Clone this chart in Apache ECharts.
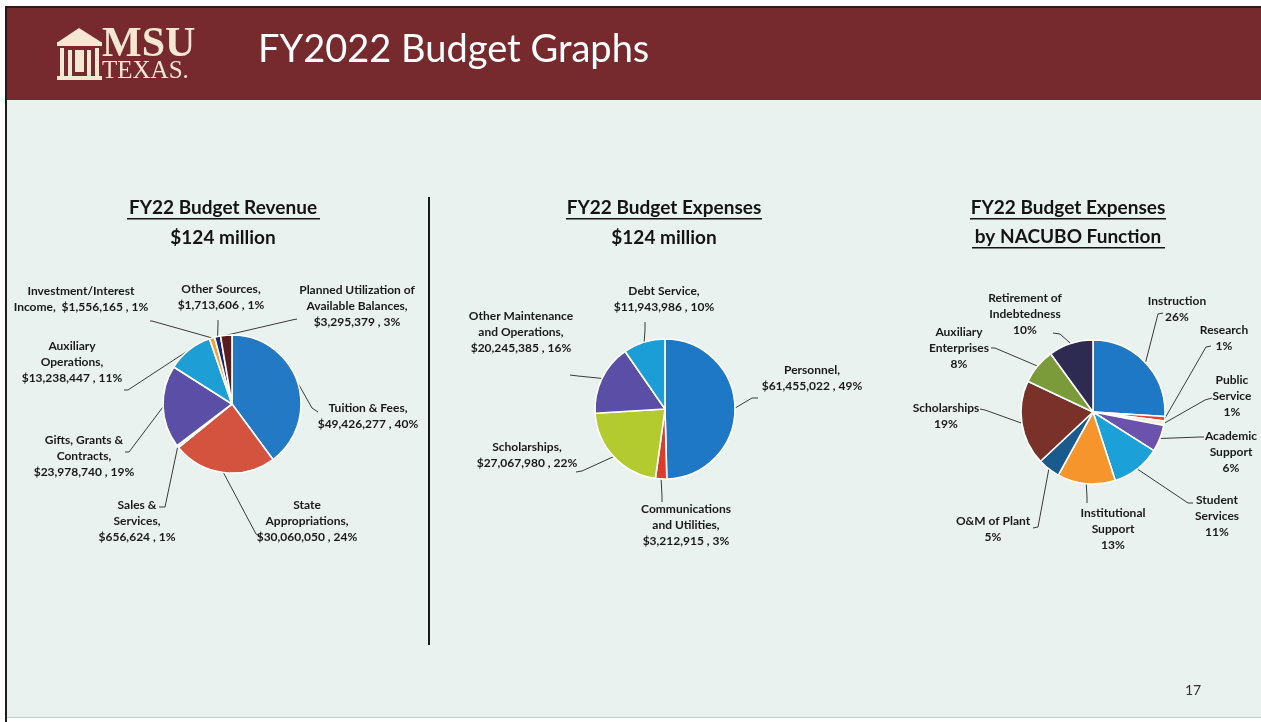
<!DOCTYPE html>
<html><head><meta charset="utf-8">
<script src="https://cdn.jsdelivr.net/npm/echarts@6/dist/echarts.min.js"></script>
<style>html,body{margin:0;padding:0;background:#fff;}#c{width:1261px;height:722px;}</style>
</head><body><div id="c"></div>
<script>
// ---------- DATA ----------
const revenueCategories = ['Tuition & Fees','State Appropriations','Sales & Services','Gifts, Grants & Contracts','Auxiliary Operations','Investment/Interest Income','Other Sources','Planned Utilization of Available Balances'];
const revenueValues = [49426277, 30060050, 656624, 23978740, 13238447, 1556165, 1713606, 3295379];
const revenuePercents = ['40%','24%','1%','19%','11%','1%','1%','3%'];
const revenueLabelNames = ['Tuition & Fees,\n','State\nAppropriations,\n','Sales &\nServices,\n','Gifts, Grants &\nContracts,\n','Auxiliary\nOperations,\n','Investment/Interest\nIncome,  ','Other Sources,\n','Planned Utilization of\nAvailable Balances,\n'];

const expenseCategories = ['Personnel','Communications and Utilities','Scholarships','Other Maintenance and Operations','Debt Service'];
const expenseValues = [61455022, 3212915, 27067980, 20245385, 11943986];
const expensePercents = ['49%','3%','22%','16%','10%'];
const expenseLabelNames = ['Personnel,\n','Communications\nand Utilities,\n','Scholarships,\n','Other Maintenance\nand Operations,\n','Debt Service,\n'];

const nacuboCategories = ['Instruction','Research','Public Service','Academic Support','Student Services','Institutional Support','O&M of Plant','Scholarships','Auxiliary Enterprises','Retirement of Indebtedness'];
const nacuboValues = [26, 1, 1, 6, 11, 13, 5, 19, 8, 10];
const nacuboLabelNames = ['Instruction\n','Research\n','Public\nService\n','Academic\nSupport\n','Student\nServices\n','Institutional\nSupport\n','O&M of Plant\n','Scholarships\n','Auxiliary\nEnterprises\n','Retirement of\nIndebtedness\n'];

// ---------- STYLE / LAYOUT ----------
const revenueColors = ['#2479c4','#d4533f','#f3f1ec','#5b4ea6','#1d9fd6','#f2a22e','#1b2870','#5a1c1e'];
const expenseColors = ['#1f78c6','#dd3b2c','#b4cb2f','#5a4ea6','#1b9dd5'];
const nacuboColors = ['#1f78c6','#e0452f','#f6f1dc','#6a52ad','#1ca0d8','#f5952b','#1b5a8c','#7a3129','#7b9a3a','#2d2b52'];

const revenueLabelPos = [
  {x:368,y:416,l:[[312,408],[318,412]]},
  {x:307,y:521,l:[[256,534],[262,537]]},
  {x:137,y:521,l:[[165,507],[159,507]]},
  {x:84,y:456,l:[[129,452],[125,452]]},
  {x:72,y:362,l:[[128,390],[124,390]]},
  {x:81,y:299,l:[[152,321],[150,321]]},
  {x:221,y:297,l:[[218,324],[218,320]]},
  {x:357,y:306,l:[[292,320],[297,319]]}
];
const expenseLabelPos = [
  {x:812,y:378,l:[[752,398],[758,398]]},
  {x:686,y:525,l:[[662,496],[662,502]]},
  {x:527,y:455,l:[[582,471],[576,472]]},
  {x:521,y:332,l:[[578,376],[570,375]]},
  {x:664,y:299,l:[[645,330],[645,322]]}
];
const nacuboLabelPos = [
  {x:1177,y:309,l:[[1158,314],[1163,313]]},
  {x:1224,y:338,l:[[1206,347],[1211,346]]},
  {x:1232,y:396,l:[[1205,400],[1212,398]]},
  {x:1231,y:452,l:[[1200,437],[1204,437]]},
  {x:1217,y:516,l:[[1188,503],[1193,503]]},
  {x:1113,y:529,l:[[1087,497],[1087,503]]},
  {x:993,y:529,l:[[1038,527],[1033,528]]},
  {x:946,y:416,l:[[985,410],[980,409]]},
  {x:959,y:348,l:[[995,348],[991,348]]},
  {x:1025,y:314,l:[[1060,334],[1053,333]]}
];

const FONT = 'Lato, "Noto Sans", sans-serif';
const money = v => '$' + v.toLocaleString('en-US');

function makeLayout(pos){
  return function(params){
    const p = pos[params.dataIndex];
    const r = {x:p.x, y:p.y, align:'center', verticalAlign:'middle'};
    if (params.labelLinePoints && params.labelLinePoints[0]) {
      r.labelLinePoints = [params.labelLinePoints[0], p.l[0], p.l[1]];
    }
    return r;
  };
}

function pieSeries(name, cats, vals, colors, center, radius, formatter, pos){
  return {
    type:'pie', name, center, radius, startAngle:90, clockwise:true,
    avoidLabelOverlap:false, animation:false, silent:true, z:5,
    data: cats.map((c,i)=>({name:c, value:vals[i], itemStyle:{color:colors[i]}})),
    itemStyle:{borderColor:'#ffffff', borderWidth:1.6},
    label:{show:true, position:'outside', formatter, color:'#1a1a1a', fontFamily:FONT, fontWeight:'bold', fontSize:12, lineHeight:16, align:'center'},
    labelLine:{show:true, length:8, length2:8, lineStyle:{color:'#3a3a3a', width:1}},
    labelLayout: makeLayout(pos),
    emphasis:{disabled:true}
  };
}

const chart = echarts.init(document.getElementById('c'), null, {renderer:'canvas'});

const cream = '#f4e8d2';
const TF = 'bold 19px ' + FONT;
const graphics = [
  {type:'rect', z:0, shape:{x:0,y:0,width:1261,height:722}, style:{fill:'#ffffff'}},
  {type:'rect', z:1, shape:{x:7,y:100,width:1254,height:618}, style:{fill:'#e9f2ef'}},
  {type:'rect', z:1, shape:{x:7,y:7,width:1254,height:93}, style:{fill:'#772a2e'}},
  {type:'rect', z:2, shape:{x:5,y:6,width:2,height:716}, style:{fill:'#1a1a1a'}},
  {type:'rect', z:2, shape:{x:5,y:6,width:1256,height:2}, style:{fill:'#2a1a1a'}},
  {type:'rect', z:2, shape:{x:7,y:717,width:1254,height:1}, style:{fill:'#c9cfcc'}},
  // logo icon
  {type:'polygon', z:3, shape:{points:[[58,42],[79,28],[101,42]]}, style:{fill:cream}},
  {type:'rect', z:3, shape:{x:57,y:42,width:45,height:4}, style:{fill:cream}},
  {type:'rect', z:3, shape:{x:60,y:48,width:4,height:28}, style:{fill:cream}},
  {type:'rect', z:3, shape:{x:68,y:50,width:4,height:26}, style:{fill:cream}},
  {type:'rect', z:3, shape:{x:75,y:50,width:9,height:22}, style:{fill:cream}},
  {type:'rect', z:3, shape:{x:87,y:50,width:4,height:26}, style:{fill:cream}},
  {type:'rect', z:3, shape:{x:95,y:48,width:4,height:28}, style:{fill:cream}},
  {type:'rect', z:3, shape:{x:57,y:76,width:45,height:4}, style:{fill:cream}},
  {type:'text', z:3, style:{text:'MSU', x:102, y:45, font:'bold 42px "Liberation Serif", "DejaVu Serif", serif', fill:cream, textVerticalAlign:'middle'}},
  {type:'text', z:3, style:{text:'TEXAS.', x:102, y:71, font:'25px "Liberation Serif", "DejaVu Serif", serif', fill:cream, textVerticalAlign:'middle'}},
  {type:'text', z:3, style:{text:'FY2022 Budget Graphs', x:258, y:50, font:'38px ' + FONT, fill:'#ffffff', textVerticalAlign:'middle'}},
  // divider
  {type:'rect', z:3, shape:{x:428,y:197,width:2,height:448}, style:{fill:'#1a1a1a'}},
  // titles
  {type:'text', z:3, style:{text:'FY22 Budget Revenue', x:223, y:208, font:TF, fill:'#141414', textAlign:'center', textVerticalAlign:'middle'}},
  {type:'rect', z:3, shape:{x:127,y:218,width:193,height:1.5}, style:{fill:'#141414'}},
  {type:'text', z:3, style:{text:'$124 million', x:223, y:238, font:TF, fill:'#141414', textAlign:'center', textVerticalAlign:'middle'}},
  {type:'text', z:3, style:{text:'FY22 Budget Expenses', x:664, y:208, font:TF, fill:'#141414', textAlign:'center', textVerticalAlign:'middle'}},
  {type:'rect', z:3, shape:{x:566,y:218,width:196,height:1.5}, style:{fill:'#141414'}},
  {type:'text', z:3, style:{text:'$124 million', x:664, y:238, font:TF, fill:'#141414', textAlign:'center', textVerticalAlign:'middle'}},
  {type:'text', z:3, style:{text:'FY22 Budget Expenses', x:1068, y:208, font:TF, fill:'#141414', textAlign:'center', textVerticalAlign:'middle'}},
  {type:'rect', z:3, shape:{x:970,y:218,width:196,height:1.5}, style:{fill:'#141414'}},
  {type:'text', z:3, style:{text:'by NACUBO Function', x:1068, y:237, font:TF, fill:'#141414', textAlign:'center', textVerticalAlign:'middle'}},
  {type:'rect', z:3, shape:{x:972,y:247,width:193,height:1.5}, style:{fill:'#141414'}},
  {type:'text', z:3, style:{text:'17', x:1193, y:690, font:'14px ' + FONT, fill:'#333333', textAlign:'center', textVerticalAlign:'middle'}}
];

const option = {
  animation:false,
  backgroundColor:'#ffffff',
  graphic:{elements:graphics},
  series:[
    pieSeries('FY22 Budget Revenue', revenueCategories, revenueValues, revenueColors, [232,404], 69,
      p => revenueLabelNames[p.dataIndex] + money(p.value) + ' , ' + revenuePercents[p.dataIndex], revenueLabelPos),
    pieSeries('FY22 Budget Expenses', expenseCategories, expenseValues, expenseColors, [665,409], 70,
      p => expenseLabelNames[p.dataIndex] + money(p.value) + ' , ' + expensePercents[p.dataIndex], expenseLabelPos),
    pieSeries('FY22 Budget Expenses by NACUBO Function', nacuboCategories, nacuboValues, nacuboColors, [1093,412], 72,
      p => nacuboLabelNames[p.dataIndex] + p.value + '%', nacuboLabelPos)
  ]
};
chart.setOption(option);
</script></body></html>
